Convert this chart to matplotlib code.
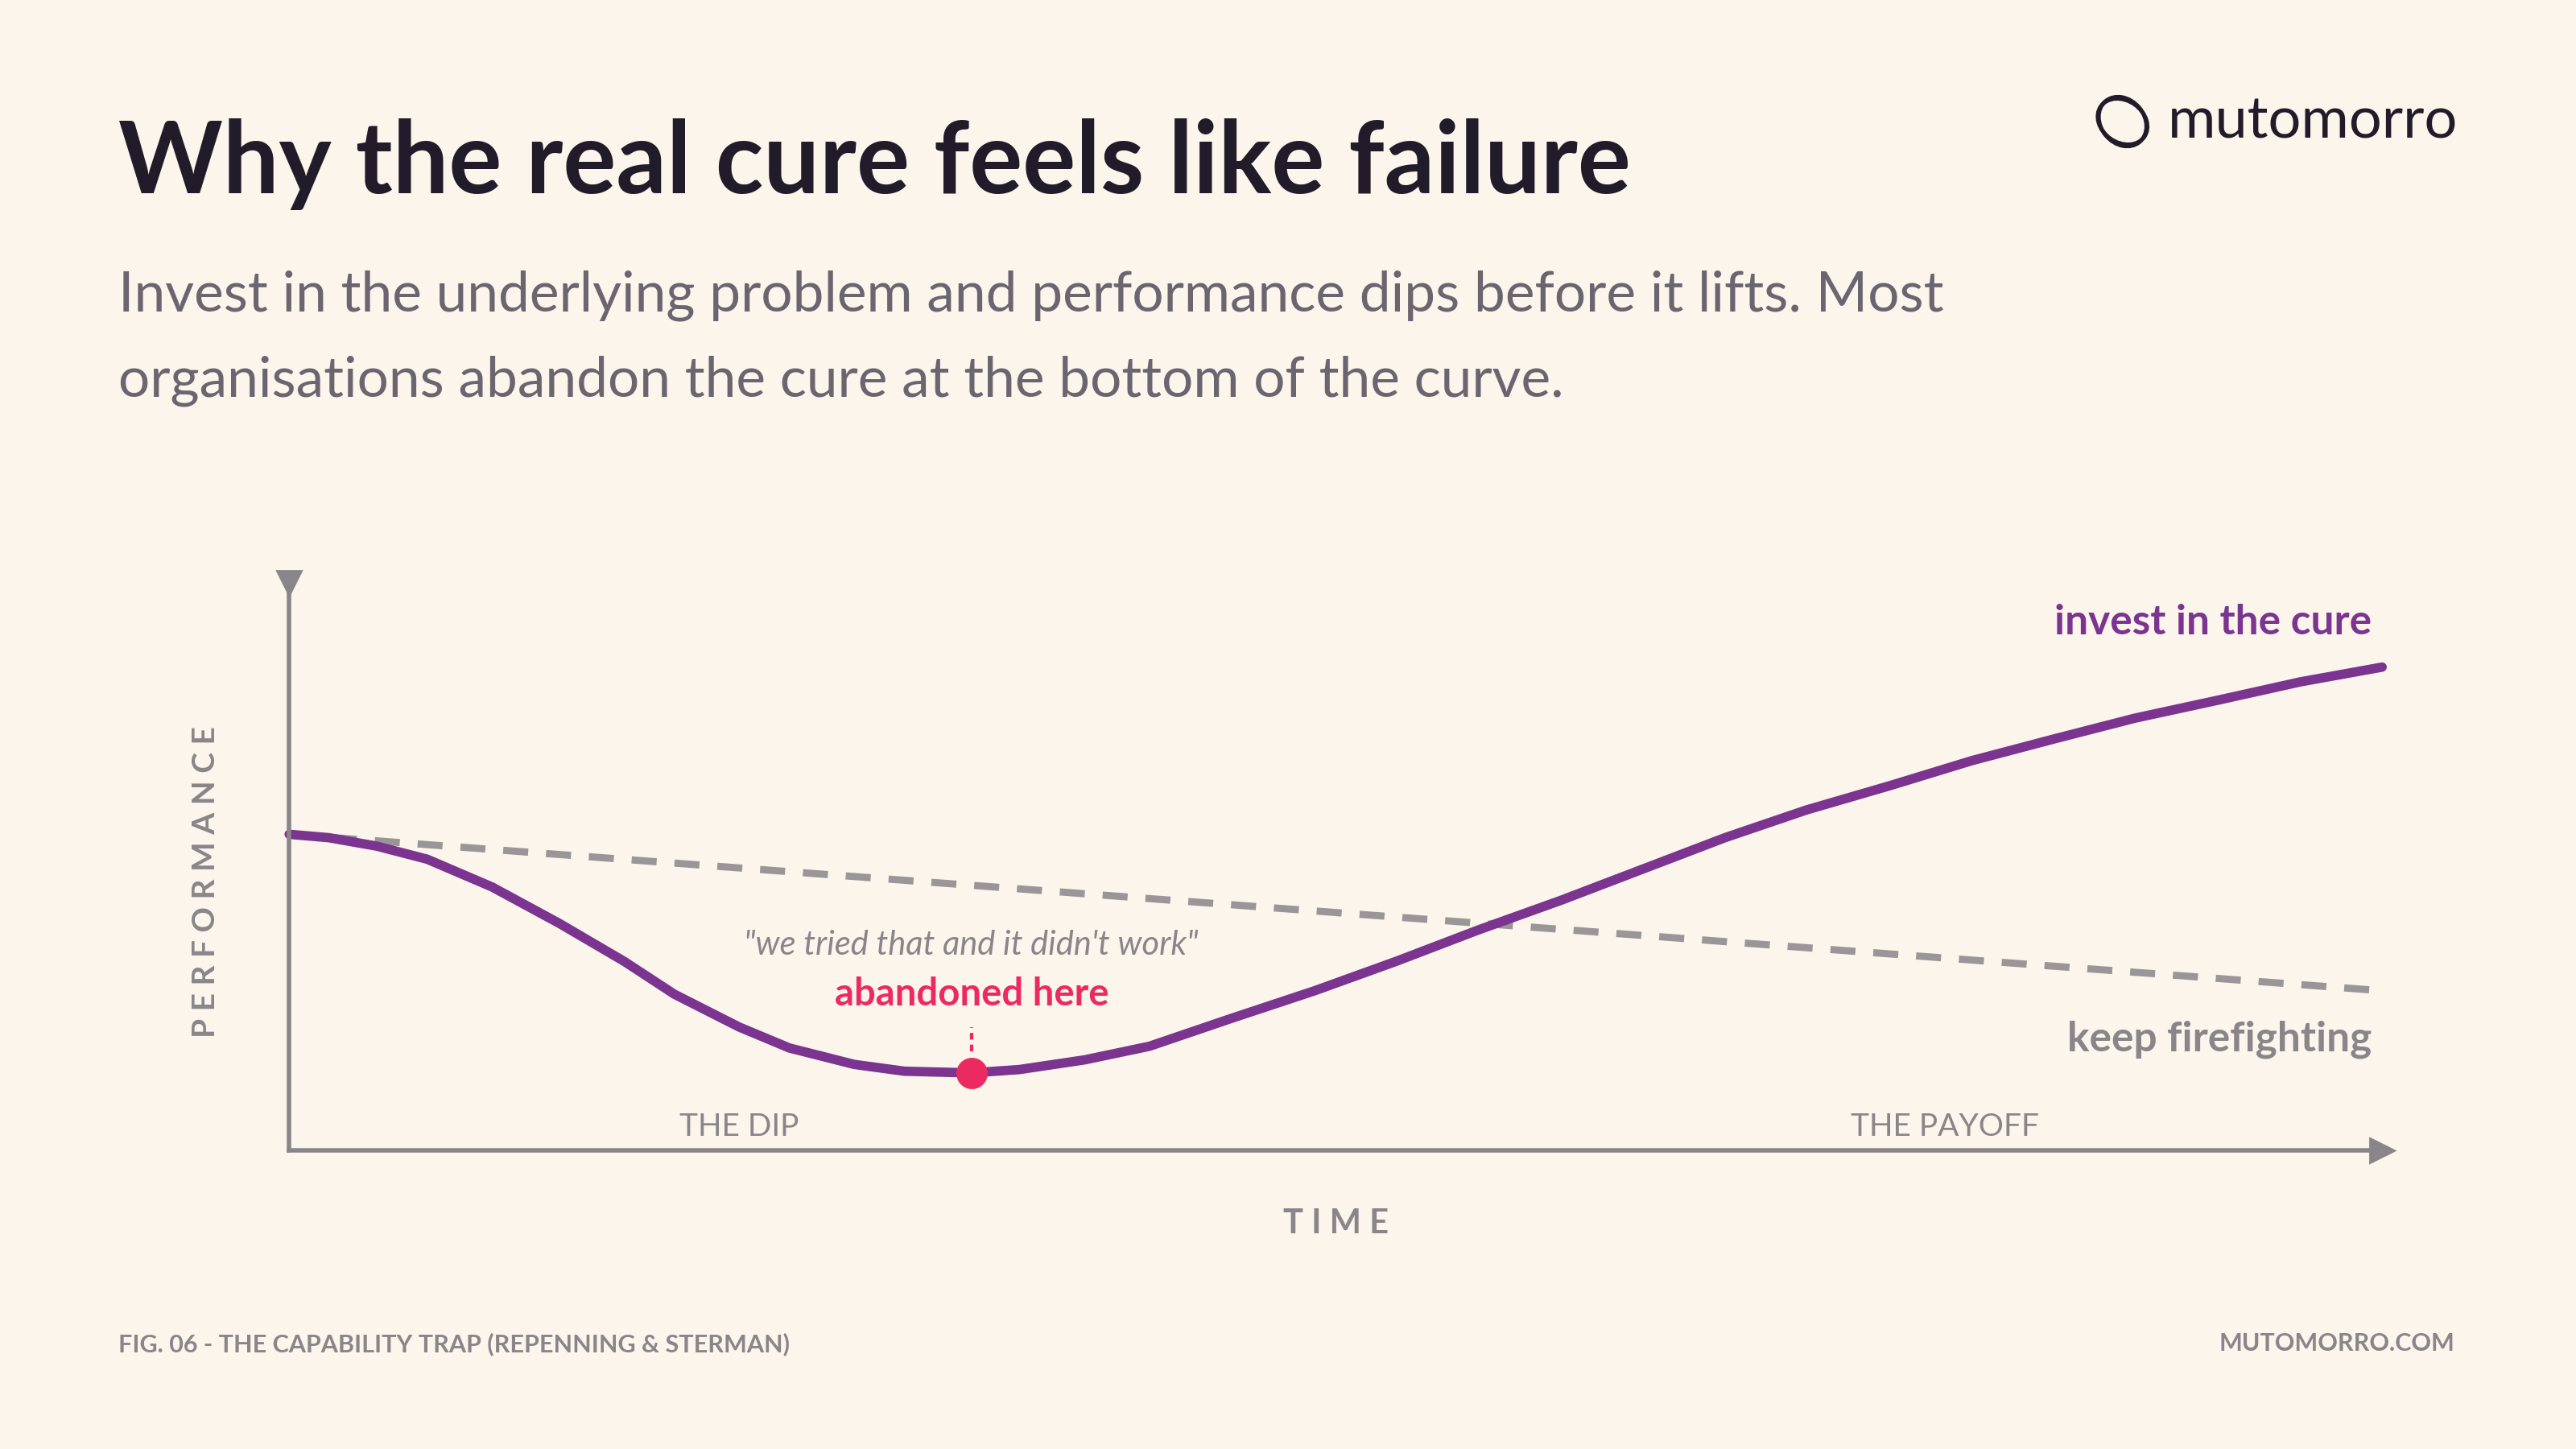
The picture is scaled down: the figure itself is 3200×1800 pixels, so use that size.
import matplotlib.pyplot as plt
from matplotlib.patches import Ellipse

plt.rcParams['font.family'] = ['Lato', 'DejaVu Sans']

# curve data: time (0-100) vs performance (0-100)
cure_t = [0, 1.9, 4.2, 6.6, 9.7, 12.9, 16.0, 18.4, 21.5, 23.9, 27.0, 29.4, 32.6, 34.9, 38.0,
          41.1, 45.0, 49.0, 52.9, 56.8, 60.8, 64.7, 68.6, 72.5, 76.5, 80.4, 84.3, 88.2, 92.2, 96.1, 100]
cure_p = [55.7, 55.1, 53.6, 51.3, 46.4, 40.0, 33.3, 27.5, 21.7, 18.0, 15.1, 13.9, 13.6, 14.2, 15.9,
          18.3, 23.2, 28.1, 33.3, 38.8, 44.1, 49.6, 55.1, 60.0, 64.3, 68.7, 72.5, 76.2, 79.4, 82.6, 85.2]
fire_t = [0, 100]
fire_p = [55.7, 28.1]
abandon_t, abandon_p = 32.6, 13.6

BG = '#fcf5ec'
DARK = '#221c2a'
GREY = '#8a8589'
SUB = '#6b6570'
PURPLE = '#7b3590'
PINK = '#ec2a62'

fig = plt.figure(figsize=(16, 9), dpi=200, facecolor=BG)

def fx(x):
    return x / 1568

def fy(y):
    return 1 - y / 882

ax = fig.add_axes([fx(176), fy(700), fx(1450) - fx(176), fy(355) - fy(700)])
ax.set_facecolor('none')
ax.set_xlim(0, 100)
ax.set_ylim(0, 100)
for s in ['top', 'right']:
    ax.spines[s].set_visible(False)
for s in ['left', 'bottom']:
    ax.spines[s].set_color(GREY)
    ax.spines[s].set_linewidth(2)
ax.set_xticks([])
ax.set_yticks([])
ax.plot(100, 0, '>', color=GREY, ms=11, clip_on=False)
ax.plot(0, 100, 'v', color=GREY, ms=11, clip_on=False)

ax.plot(fire_t, fire_p, color='#9a9597', lw=3.2, ls=(0, (3.5, 2.5)), clip_on=False)
ax.plot(cure_t, cure_p, color=PURPLE, lw=4.2, solid_capstyle='round', solid_joinstyle='round', clip_on=False)
ax.plot([abandon_t, abandon_t], [17.4, 21.7], color=PINK, lw=1.5, ls=(0, (2, 1.5)))
ax.plot(abandon_t, abandon_p, 'o', color=PINK, ms=13, zorder=5)

ax.text(abandon_t, 36.2, '"we tried that and it didn\'t work"', ha='center', va='center',
        fontsize=15, style='italic', color=GREY)
ax.text(abandon_t, 27.5, 'abandoned here', ha='center', va='center',
        fontsize=17, weight='bold', color=PINK)
ax.text(99.5, 93, 'invest in the cure', ha='right', va='center', fontsize=18.5, weight='bold', color=PURPLE)
ax.text(99.5, 19.5, 'keep firefighting', ha='right', va='center', fontsize=18.5, weight='bold', color=GREY)
ax.text(21.5, 4, 'THE DIP', ha='center', va='center', fontsize=14, color=GREY)
ax.text(79.1, 4, 'THE PAYOFF', ha='center', va='center', fontsize=14, color=GREY)

fig.text(fx(813), fy(745), 'T I M E', ha='center', va='center', fontsize=15, weight='bold', color=GREY)
fig.text(fx(125), fy(537), 'P E R F O R M A N C E', ha='center', va='center', rotation=90,
         fontsize=14, weight='bold', color=GREY)

fig.text(fx(72), fy(100), 'Why the real cure feels like failure', ha='left', va='center',
         fontsize=44.5, weight='bold', color=DARK)
fig.text(fx(72), fy(180), 'Invest in the underlying problem and performance dips before it lifts. Most',
         ha='left', va='center', fontsize=25, color=SUB)
fig.text(fx(72), fy(232), 'organisations abandon the cure at the bottom of the curve.',
         ha='left', va='center', fontsize=25, color=SUB)

fig.text(fx(72), fy(818), 'FIG. 06 - THE CAPABILITY TRAP (REPENNING & STERMAN)', ha='left', va='center',
         fontsize=11, weight='bold', color=GREY)
fig.text(fx(1494), fy(818), 'MUTOMORRO.COM', ha='right', va='center', fontsize=11, weight='bold', color=GREY)

# logo (sizes in inches)
fig.text(fx(1496), fy(74), 'mutomorro', ha='right', va='center', fontsize=26, color=DARK)
lx, ly = fx(1292) * 16, fy(74) * 9
for w, h, a in [(0.27, 0.33, 40), (0.33, 0.26, -35)]:
    fig.add_artist(Ellipse((lx, ly), w, h, angle=a, transform=fig.dpi_scale_trans,
                           fill=False, ec=DARK, lw=1.8))

fig.savefig('out.png', dpi=200, facecolor=BG)
